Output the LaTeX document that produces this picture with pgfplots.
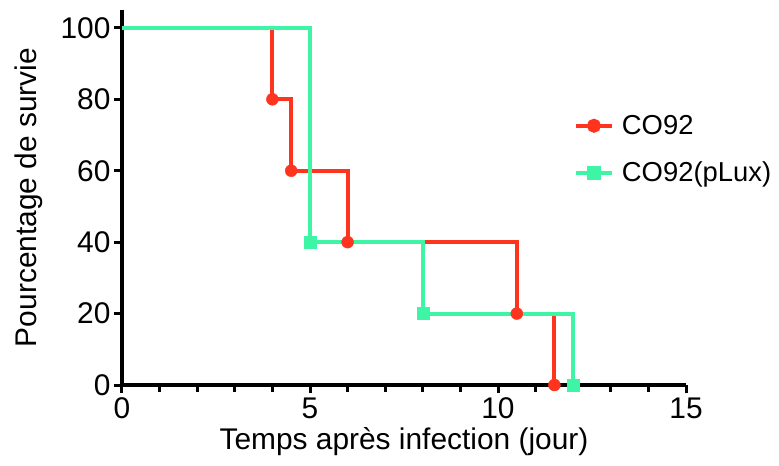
\documentclass[border=0pt]{standalone}
\usepackage{fontspec}
\setmainfont{Liberation Sans}
\usepackage{pgfplots}
\pgfplotsset{compat=1.18}
\definecolor{cred}{RGB}{255,52,30}
\definecolor{cgreen}{RGB}{62,245,165}
\begin{document}
\begin{tikzpicture}
\begin{axis}[
  scale only axis, width=564bp, height=375bp,
  xmin=0, xmax=15, ymin=0, ymax=105,
  axis x line*=bottom, axis y line*=left,
  axis line style={line width=3.4bp, -},
  xtick={0,5,10,15}, ytick={0,20,40,60,80,100},
  minor xtick={1,2,3,4,6,7,8,9,11,12,13,14},
  tick align=outside,
  major tick length=8bp, minor tick length=7bp,
  every tick/.style={line width=3bp, black},
  tick label style={font=\fontsize{30}{34}\selectfont},
  xticklabel style={yshift=-1bp},
  /pgf/number format/assume math mode=true,
  xlabel={Temps après infection (jour)},
  ylabel={Pourcentage de survie},
  label style={font=\fontsize{30}{34}\selectfont},
  xlabel style={yshift=-2bp},
  ylabel style={yshift=11bp},
  legend style={draw=none, fill=none, at={(0.801,0.73)}, anchor=north west,
    font=\fontsize{27.5}{31}\selectfont, row sep=22bp, legend cell align=left, inner xsep=0bp},
  legend image code/.code={\draw[#1,mark repeat=2,mark phase=2] plot coordinates {(0bp,0bp) (18bp,0bp) (36bp,0bp)}; \path (42bp,0bp);},
  clip=false,
]
\addplot[const plot, cred, line width=4bp, forget plot] coordinates {(0,100) (4,80) (4.5,60) (6,40) (10.5,20) (11.5,0)};
\addplot[cgreen, line width=4bp, const plot, forget plot] coordinates {(0,100) (5,40) (8,20) (12,0)};
\addplot[only marks, mark=*, cred, mark size=6bp, forget plot] coordinates {(4,80) (4.5,60) (6,40) (10.5,20) (11.5,0)};
\addplot[only marks, mark=square*, cgreen, mark size=6bp, forget plot] coordinates {(5,40) (8,20) (12,0)};
\addlegendimage{cred, line width=4bp, mark=*, mark size=5bp}
\addlegendentry{CO92}
\addlegendimage{cgreen, line width=4bp, mark=square*, mark size=5bp}
\addlegendentry{CO92(pLux)}
\end{axis}
\path[use as bounding box] (-122bp,-81bp) rectangle (657bp,385bp);
\end{tikzpicture}
\end{document}
